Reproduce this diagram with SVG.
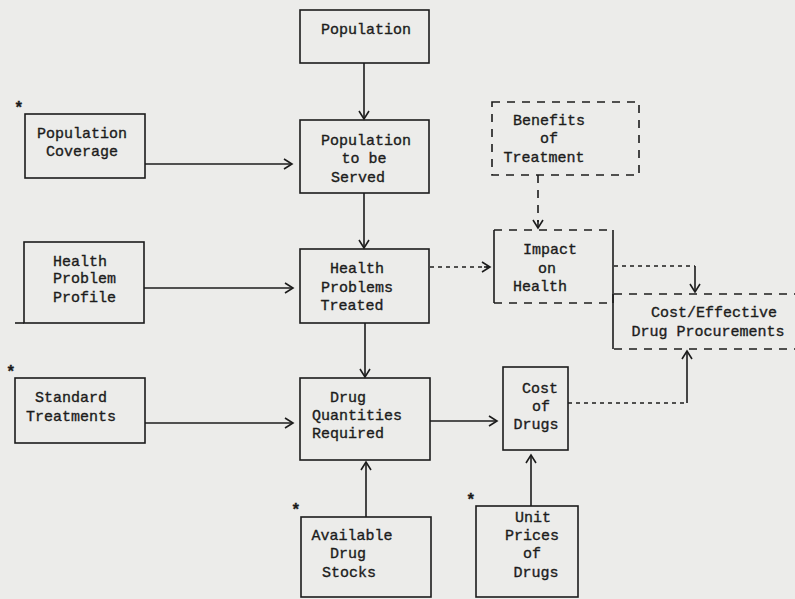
<svg xmlns="http://www.w3.org/2000/svg" width="795" height="599" viewBox="0 0 795 599">
<style>
.bx{fill:none;stroke:#1c1c1c;stroke-width:1.6}
.ln{fill:none;stroke:#1c1c1c;stroke-width:1.6}
.ds{fill:none;stroke:#1c1c1c;stroke-width:1.6;stroke-dasharray:8 7}
.dt{fill:none;stroke:#1c1c1c;stroke-width:1.6;stroke-dasharray:4 4}
text{font-family:"Liberation Mono","DejaVu Sans Mono",monospace;font-size:15px;fill:#1c1c1c;stroke:#1c1c1c;stroke-width:0.35}
.c{text-anchor:middle}
.st{font-size:16px;font-weight:bold}
</style>
<defs>
<marker id="ah" markerWidth="12" markerHeight="12" refX="10" refY="6" orient="auto" markerUnits="userSpaceOnUse">
<path d="M2,1 L10,6 L2,11" fill="none" stroke="#1c1c1c" stroke-width="1.6"/>
</marker>
</defs>
<rect width="795" height="599" fill="#ececea"/>

<g id="population">
<rect class="bx" x="300" y="10" width="129" height="53"/>
<text class="c" x="366" y="34">Population</text>
</g>
<g id="population-coverage">
<rect class="bx" x="25" y="114" width="120" height="64"/>
<text class="st" x="14" y="113">*</text>
<text class="c" x="82" y="138">Population</text>
<text class="c" x="82" y="156">Coverage</text>
</g>
<g id="population-served">
<rect class="bx" x="300" y="120" width="129" height="73"/>
<text class="c" x="366" y="145">Population</text>
<text class="c" x="364" y="163">to be</text>
<text class="c" x="358" y="182">Served</text>
</g>
<g id="health-problem-profile">
<rect class="bx" x="24" y="242" width="120" height="81"/>
<line class="ln" x1="15" y1="323" x2="24" y2="323"/>
<text x="53" y="266">Health</text>
<text x="53" y="283">Problem</text>
<text x="53" y="302">Profile</text>
</g>
<g id="health-problems-treated">
<rect class="bx" x="300" y="249" width="129" height="74"/>
<text class="c" x="357" y="273">Health</text>
<text class="c" x="357" y="292">Problems</text>
<text class="c" x="352" y="310">Treated</text>
</g>
<g id="standard-treatments">
<rect class="bx" x="15" y="378" width="130" height="65"/>
<text class="st" x="6" y="377">*</text>
<text class="c" x="71" y="402">Standard</text>
<text class="c" x="71" y="421">Treatments</text>
</g>
<g id="drug-quantities">
<rect class="bx" x="300" y="378" width="130" height="82"/>
<text x="330" y="402">Drug</text>
<text x="312" y="420">Quantities</text>
<text x="312" y="438">Required</text>
</g>
<g id="available-drug-stocks">
<rect class="bx" x="301" y="517" width="130" height="80"/>
<text class="st" x="291" y="515">*</text>
<text class="c" x="352" y="540">Available</text>
<text class="c" x="348" y="558">Drug</text>
<text class="c" x="349" y="577">Stocks</text>
</g>
<g id="benefits-of-treatment">
<rect class="ds" x="492" y="102" width="147" height="73"/>
<text class="c" x="549" y="125">Benefits</text>
<text class="c" x="549" y="143">of</text>
<text class="c" x="544" y="162">Treatment</text>
</g>
<g id="impact-on-health">
<line class="ds" x1="494" y1="230" x2="613" y2="230"/>
<line class="ds" x1="494" y1="303" x2="613" y2="303"/>
<line class="ln" x1="494" y1="230" x2="494" y2="303"/>
<line class="ln" x1="613" y1="230" x2="613" y2="303"/>
<text class="c" x="550" y="254">Impact</text>
<text class="c" x="547" y="273">on</text>
<text class="c" x="540" y="291">Health</text>
</g>
<g id="cost-effective">
<line class="ds" x1="614" y1="294" x2="795" y2="294"/>
<line class="ds" x1="614" y1="349" x2="795" y2="349"/>
<line class="ln" x1="613" y1="294" x2="613" y2="349"/>
<text class="c" x="714" y="317">Cost/Effective</text>
<text class="c" x="708" y="336">Drug Procurements</text>
</g>
<g id="cost-of-drugs">
<rect class="bx" x="503" y="367" width="65" height="83"/>
<text class="c" x="540" y="393">Cost</text>
<text class="c" x="541" y="411">of</text>
<text class="c" x="536" y="429">Drugs</text>
</g>
<g id="unit-prices">
<rect class="bx" x="476" y="506" width="102" height="91"/>
<text class="st" x="466" y="505">*</text>
<text class="c" x="533" y="522">Unit</text>
<text class="c" x="532" y="540">Prices</text>
<text class="c" x="532" y="558">of</text>
<text class="c" x="536" y="577">Drugs</text>
</g>

<g id="connectors">
<line class="ln" x1="364" y1="63" x2="364" y2="119" marker-end="url(#ah)"/>
<line class="ln" x1="145" y1="164" x2="292" y2="164" marker-end="url(#ah)"/>
<line class="ln" x1="364" y1="193" x2="364" y2="248" marker-end="url(#ah)"/>
<line class="ln" x1="144" y1="288" x2="293" y2="288" marker-end="url(#ah)"/>
<line class="ln" x1="365" y1="323" x2="365" y2="377" marker-end="url(#ah)"/>
<line class="ln" x1="145" y1="423" x2="293" y2="423" marker-end="url(#ah)"/>
<line class="ln" x1="366" y1="517" x2="366" y2="462" marker-end="url(#ah)"/>
<line class="ln" x1="430" y1="421" x2="497" y2="421" marker-end="url(#ah)"/>
<line class="ln" x1="531" y1="506" x2="531" y2="455" marker-end="url(#ah)"/>
<line class="dt" x1="430" y1="267" x2="488" y2="267"/>
<line class="ln" x1="484" y1="267" x2="490" y2="267" marker-end="url(#ah)"/>
<line class="ds" x1="538" y1="175" x2="538" y2="222"/>
<line class="ln" x1="538" y1="220" x2="538" y2="228" marker-end="url(#ah)"/>
<polyline class="dt" points="614,266 695,266"/>
<line class="ln" x1="695" y1="266" x2="695" y2="292" marker-end="url(#ah)"/>
<polyline class="dt" points="568,403 687,403"/>
<line class="ln" x1="687" y1="403" x2="687" y2="351" marker-end="url(#ah)"/>
</g>
</svg>
